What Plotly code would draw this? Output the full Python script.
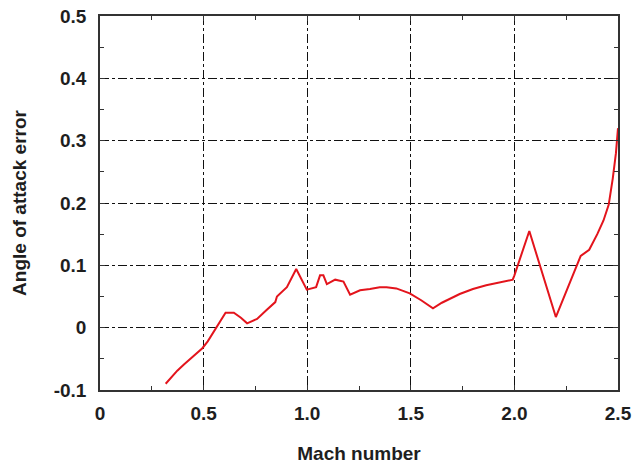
import plotly.graph_objects as go

mach = [0.317, 0.345, 0.373, 0.405, 0.4375, 0.47, 0.494, 0.52, 0.56, 0.606, 0.646, 0.68,
        0.710, 0.758, 0.80, 0.846, 0.854, 0.902, 0.947, 0.998, 1.043, 1.062, 1.078, 1.095,
        1.135, 1.175, 1.207, 1.255, 1.303, 1.35, 1.383, 1.43, 1.495, 1.55, 1.607, 1.65,
        1.736, 1.80, 1.864, 1.93, 1.992, 2.0, 2.072, 2.200, 2.320, 2.361, 2.400, 2.43,
        2.455, 2.475, 2.49, 2.5]
err = [-0.090, -0.079, -0.069, -0.059, -0.050, -0.041, -0.033, -0.022, 0.000, 0.024, 0.024, 0.016,
       0.007, 0.014, 0.027, 0.041, 0.050, 0.065, 0.094, 0.061, 0.065, 0.084, 0.084, 0.070,
       0.077, 0.074, 0.053, 0.060, 0.062, 0.065, 0.065, 0.063, 0.055, 0.044, 0.031, 0.040,
       0.054, 0.062, 0.068, 0.073, 0.077, 0.084, 0.155, 0.017, 0.115, 0.125, 0.150, 0.172,
       0.197, 0.240, 0.280, 0.320]

x_ticks = [0, 0.5, 1.0, 1.5, 2.0, 2.5]
x_text = ["0", "0.5", "1.0", "1.5", "2.0", "2.5"]
y_ticks = [-0.1, 0, 0.1, 0.2, 0.3, 0.4, 0.5]
y_text = ["-0.1", "0", "0.1", "0.2", "0.3", "0.4", "0.5"]

fig = go.Figure(go.Scatter(x=mach, y=err, mode="lines",
                           line=dict(color="#e3141c", width=2)))

font = dict(family="Liberation Sans, Arial, sans-serif", size=19, color="#1e1e1e", weight="bold")

axis_common = dict(
    showline=True, linecolor="#333", linewidth=1.5, mirror="allticks",
    ticks="inside", ticklen=5, tickcolor="#333",
    showgrid=True, gridcolor="#111", gridwidth=1, griddash="dashdot",
    zeroline=False, tickfont=font, automargin=False,
    minor=dict(ticks="inside", ticklen=4, tickcolor="#333", showgrid=False),
)

fig.update_xaxes(range=[0, 2.5], tickvals=x_ticks, ticktext=x_text,
                 minor_dtick=0.25, minor_tick0=0, ticklabelstandoff=5,
                 title=dict(text="Mach number", font=font, standoff=24), **axis_common)
fig.update_yaxes(range=[-0.1, 0.5], tickvals=y_ticks, ticktext=y_text,
                 minor_dtick=0.05, minor_tick0=0, ticklabelstandoff=8,
                 title=dict(text="Angle of attack error", font=font, standoff=22), **axis_common)

fig.update_layout(width=632, height=467, margin=dict(l=100, r=14, t=16, b=77),
                  plot_bgcolor="white", paper_bgcolor="white", showlegend=False)

fig.write_html("out.html")
